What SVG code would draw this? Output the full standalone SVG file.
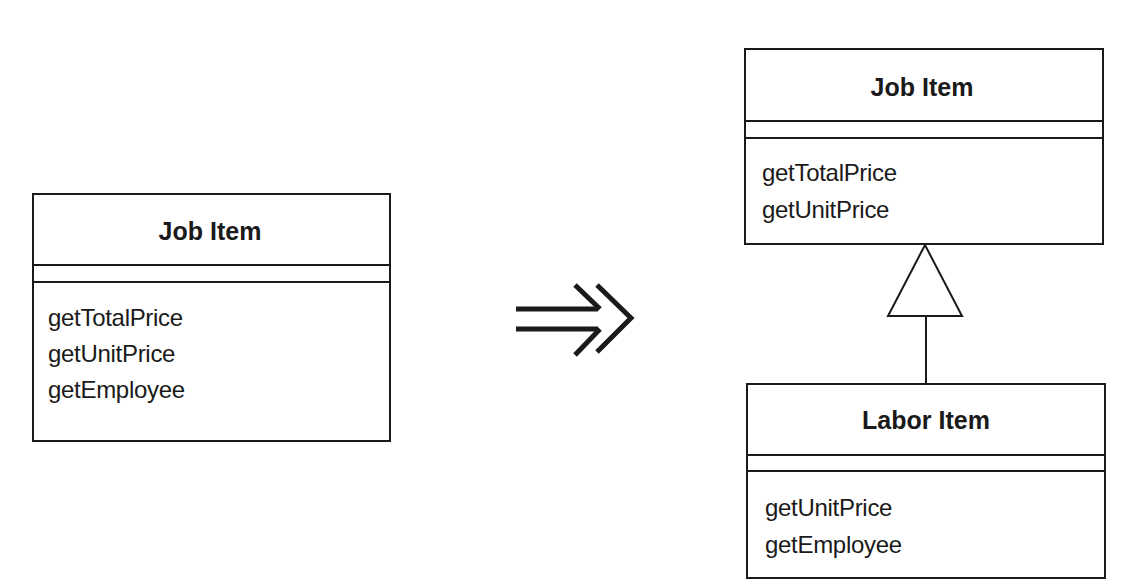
<svg xmlns="http://www.w3.org/2000/svg" width="1134" height="584" viewBox="0 0 1134 584">
<style>
.box{fill:none;stroke:#1a1a1a;stroke-width:2}
.t{font-family:"Liberation Sans",Arial,sans-serif;font-weight:bold;font-size:25px;fill:#1a1a1a;text-anchor:middle}
.m{font-family:"Liberation Sans",Arial,sans-serif;font-size:24px;fill:#1a1a1a;letter-spacing:-0.3px}
.ln{stroke:#1a1a1a;stroke-width:2;fill:none}
.ar{stroke:#1a1a1a;stroke-width:5;fill:none;stroke-linecap:butt}
</style>
<rect width="1134" height="584" fill="#fff"/>
<g id="job-item-left">
<rect class="box" x="33" y="194" width="357" height="247"/>
<line class="ln" x1="33" y1="265" x2="390" y2="265"/>
<line class="ln" x1="33" y1="282" x2="390" y2="282"/>
<text class="t" x="210" y="240">Job Item</text>
<text class="m" x="48" y="326">getTotalPrice</text>
<text class="m" x="48" y="362">getUnitPrice</text>
<text class="m" x="48" y="398">getEmployee</text>
</g>
<g id="refactor-arrow">
<line class="ar" x1="516" y1="309" x2="598" y2="309"/>
<line class="ar" x1="516" y1="329" x2="598" y2="329"/>
<polyline class="ar" points="575,285 600,309"/>
<polyline class="ar" points="600,329 575,355"/>
<polyline class="ar" points="597,285 631,318 597,352"/>
</g>
<g id="job-item-right">
<rect class="box" x="745" y="49" width="358" height="195"/>
<line class="ln" x1="745" y1="121" x2="1103" y2="121"/>
<line class="ln" x1="745" y1="138" x2="1103" y2="138"/>
<text class="t" x="922" y="96">Job Item</text>
<text class="m" x="762" y="181">getTotalPrice</text>
<text class="m" x="762" y="218">getUnitPrice</text>
</g>
<g id="labor-item">
<rect class="box" x="747" y="384" width="358" height="194"/>
<line class="ln" x1="747" y1="455" x2="1105" y2="455"/>
<line class="ln" x1="747" y1="471" x2="1105" y2="471"/>
<text class="t" x="926" y="429">Labor Item</text>
<text class="m" x="765" y="516">getUnitPrice</text>
<text class="m" x="765" y="553">getEmployee</text>
</g>
<g id="connectors">
<line class="ln" x1="926" y1="316" x2="926" y2="384"/>
<polygon class="ln" fill="#fff" points="925,245 962,316 888,316"/>
</g>
</svg>
